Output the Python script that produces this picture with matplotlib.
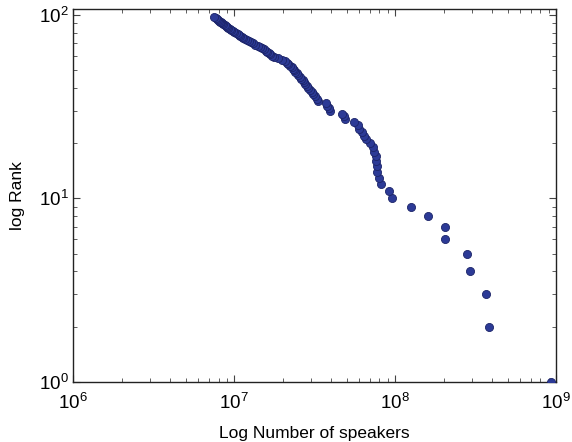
import matplotlib
matplotlib.use("Agg")
import matplotlib.pyplot as plt
import numpy as np

plt.rcParams['font.family'] = ['Liberation Sans', 'DejaVu Sans']

# Number of speakers (millions) of the top languages, ordered by rank
speakers_millions = [
    935, 386, 365, 294, 281, 205, 203, 161, 126, 96,
    92, 82, 80, 77.4, 76.9, 76.3, 75.8, 74.5, 73.1, 70.3,
    66.4, 64.5, 62.4, 59.5, 58.6, 55.9, 49.2, 48.0, 46.9, 39.7,
    38.7, 37.8, 37.4, 33.4, 32.7, 32.0, 31.1, 30.4, 29.8, 28.9,
    28.3, 27.7, 27.1, 26.6, 26.2, 25.8, 25.1, 24.5, 24.0, 23.7,
    23.3, 22.8, 22.2, 21.7, 21.3, 20.8, 19.7, 18.8, 17.8, 17.2,
    16.8, 16.4, 16.1, 15.7, 15.4, 15.0, 14.5, 14.0, 13.5, 13.1,
    12.7, 12.3, 12.0, 11.7, 11.4, 11.2, 10.9, 10.7, 10.5, 10.25,
    10.0, 9.8, 9.6, 9.4, 9.2, 9.08, 8.94, 8.75, 8.57, 8.45,
    8.32, 8.21, 8.09, 7.97, 7.86, 7.69, 7.48,
]
ranks = list(range(1, len(speakers_millions) + 1))

speakers = np.array(speakers_millions) * 1e6

fig = plt.figure(figsize=(5.72, 4.42), dpi=100)
ax = fig.add_axes([0.128, 0.136, 0.844, 0.844])

ax.scatter(speakers, ranks, s=34, color='#2c3a96', edgecolors='#1c2468',
           linewidths=0.6, zorder=3)

ax.set_xscale('log')
ax.set_yscale('log')
ax.set_xlim(1e6, 1e9)
ax.set_ylim(1, 108)

ax.tick_params(which='both', direction='in', top=True, right=True,
               colors='#444444', labelcolor='black', labelsize=13.5)
ax.tick_params(which='major', length=5, width=0.8)
ax.tick_params(which='minor', length=3, width=0.6)
ax.tick_params(axis='x', which='major', pad=8)
for sp in ax.spines.values():
    sp.set_color('#222222')
    sp.set_linewidth(1.0)

ax.set_xlabel('Log Number of speakers', fontsize=12.5, labelpad=9)
ax.set_ylabel('log Rank', fontsize=12.5, labelpad=10)

fig.savefig('out.png', dpi=100)
